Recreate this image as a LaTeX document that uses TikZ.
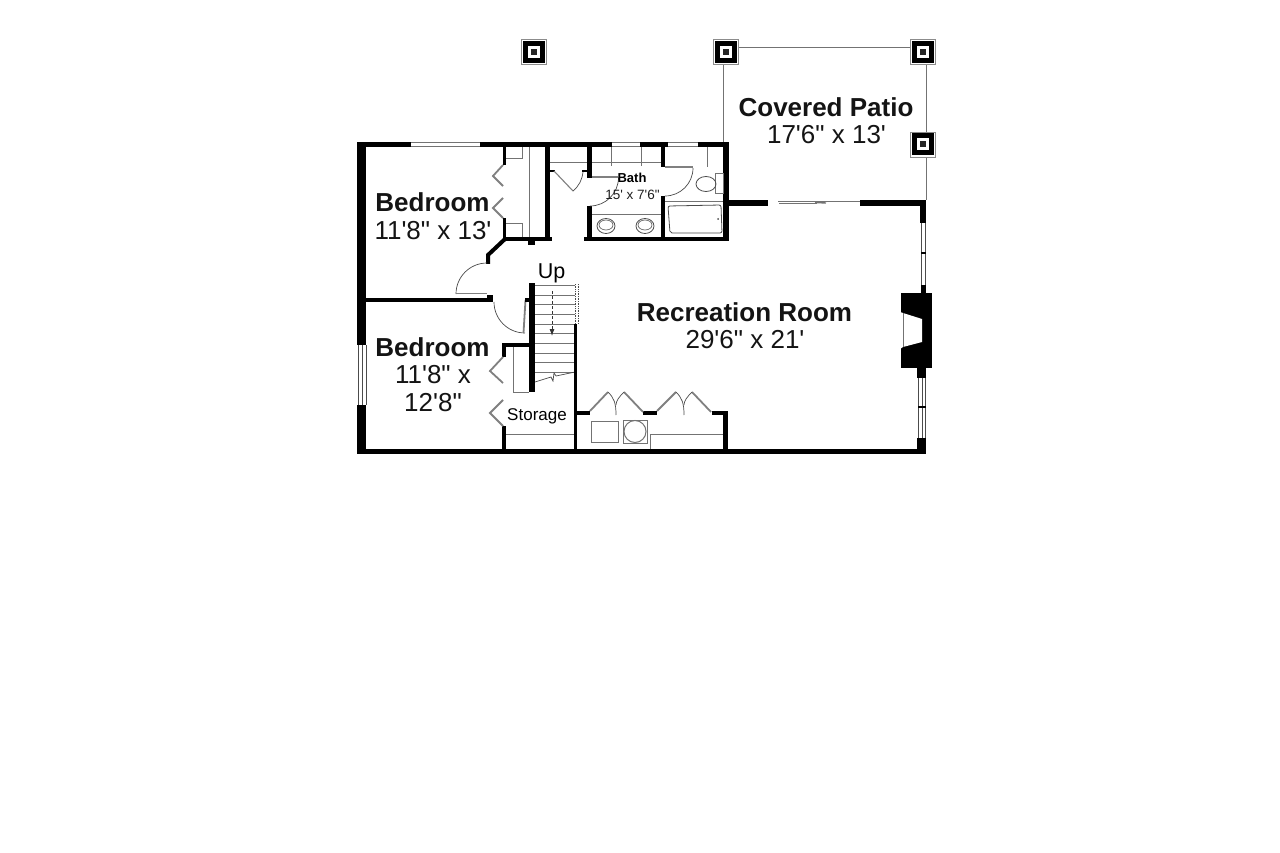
\documentclass[tikz,border=0pt]{standalone}
\usepackage{fontspec}
\usetikzlibrary{arrows.meta}
\newfontfamily\lab{Liberation Sans}
\tikzset{
  wallfill/.style={fill=black,draw=none},
  fine/.style={draw=black!55,line width=1pt},
  hair/.style={draw=black!70,line width=0.7pt},
  leaf/.style={draw=black!50,line width=1.8pt},
  room/.style={font=\lab\bfseries\fontsize{26}{26}\selectfont,inner sep=0pt,anchor=base,text=black!92},
  dims/.style={font=\lab\fontsize{26}{26}\selectfont,inner sep=0pt,anchor=base,text=black!92},
  smalldims/.style={font=\lab\fontsize{13.5}{13.5}\selectfont,inner sep=0pt,anchor=base,text=black!88},
  postouter/.style={draw=black!45,line width=0.7pt,fill=white,minimum size=25pt,inner sep=0pt},
}
\newcommand{\wl}[4]{\fill[wallfill] (#1,#2) rectangle (#3,#4);}
\newcommand{\postmark}[3]{%
  \node[postouter] (#1) at (#2,#3) {};
  \fill[black] (#2-11,#3-11) rectangle (#2+11,#3+11);
  \fill[white] (#2-6,#3-6) rectangle (#2+6,#3+6);
  \fill[black!85] (#2-3,#3-3) rectangle (#2+3,#3+3);
}
\newcommand{\bifold}[6]{\draw[leaf] (#1,#2) -- (#3,#4) -- (#5,#6);}
\begin{document}
\begin{tikzpicture}[x=1pt,y=-1pt]
\useasboundingbox (0,0) rectangle (1280,853);
\fill[white] (0,0) rectangle (1280,853);

% patio lines
\coordinate (pa) at (738,48);
\coordinate (pb) at (910,48);
\coordinate (pc) at (723,142);
\coordinate (pd) at (926,64);
\coordinate (pe) at (926,132);
\coordinate (pf) at (926,156);
\coordinate (pg) at (926,200);
\coordinate (ph) at (723,64);
\draw[fine] (pa) -- (pb);
\draw[fine] (ph) -- (pc);
\draw[fine] (pd) -- (pe);
\draw[fine] (pf) -- (pg);
\postmark{posta}{533.5}{52}
\postmark{postb}{725.5}{52}
\postmark{postc}{922.5}{52}
\postmark{postd}{922.5}{144.5}

% outer walls
\wl{357}{142}{366}{345}
\wl{357}{405}{366}{454}
\wl{357}{449}{926}{454}
\wl{357}{142}{411}{147}
\wl{480}{142}{612}{147}
\wl{640}{142}{668}{147}
\wl{698}{142}{729}{147}
\wl{723}{142}{729}{241}
\wl{729}{200}{768}{206}
\wl{860}{200}{926}{206}
\wl{920}{200}{926}{223}
\wl{921}{285}{926}{293}
\wl{917}{368}{926}{378}
\wl{917}{438}{926}{454}
% windows
\draw[fine] (411,142.5) -- (480,142.5) (411,147) -- (480,147);
\draw[fine] (612,142.5) -- (640,142.5) (612,147) -- (640,147);
\draw[fine] (668,142.5) -- (698,142.5) (668,147) -- (698,147);
\draw[hair] (358,345) -- (358,405) (362,345) -- (362,405) (366,345) -- (366,405);
\draw[hair] (921,223) -- (921,285) (925.5,223) -- (925.5,285);
\wl{921}{252}{926}{254}
\draw[hair] (918,378) -- (918,438) (922,378) -- (922,438) (925.5,378) -- (925.5,438);
\wl{918}{406}{926}{408}
% sliding door
\draw[fine] (778,201.5) -- (860,201.5);
\draw[fine,line width=1.4pt] (779,203.5) -- (817,203.5);
\draw[fine,line width=1.4pt] (815,202.5) -- (826,203);

% fireplace
\wl{901}{293}{932}{368}
\fill[white] (900,312) -- (903,313) -- (922,319) -- (922,342) -- (903,347) -- (900,349) -- cycle;
\draw[fine,line width=1pt] (903,313) -- (903,347);

% bedroom 1 closet
\wl{503}{147}{506}{165}
\wl{503}{218}{506}{240}
\bifold{503}{165}{493}{176}{503}{186}
\bifold{503}{198}{493}{208}{503}{218}
\draw[fine] (506,159) -- (522,159) -- (522,147);
\draw[fine] (506,224) -- (522,224) -- (522,237);
\draw[fine] (529,147) -- (529,237);
\wl{503}{237}{552}{241}
\wl{528}{241}{535}{245}
\wl{545}{147}{550}{241}

% diagonal wall and door
\draw[line width=4pt] (505,239) -- (488,255) -- (488,264);
\draw[hair] (487,263) arc[start angle=-90,end angle=-180,radius=31];
\draw[leaf] (456,293.5) -- (487,293.5);
\wl{366}{298}{493}{302}
\wl{487}{295}{493}{302}
\draw[hair] (494,302) arc[start angle=180,end angle=90,radius=31];
\draw[leaf] (523.5,333) -- (525.5,300);
\wl{525}{298}{529}{302}

% stairs
\wl{529}{283}{535}{392}
\foreach \yy in {285,295,304,314,324,333,343,353,362,372}{\draw[fine] (535,\yy) -- (575,\yy);}
\draw[hair,densely dotted] (575,284) -- (575,324) (578,284) -- (578,324);
\draw[hair] (535,382) -- (551,377) -- (553,381) -- (554,373) -- (556,376) -- (575,372);
\draw[black!80,line width=0.8pt,densely dashed,-{Latex[length=7pt,width=5pt]}] (552,291) -- (552,336);
\wl{574}{324}{577}{449}

% bedroom 2 closet and storage
\wl{502}{343}{529}{347}
\wl{502}{343}{506}{357}
\wl{502}{426}{506}{449}
\bifold{503}{357}{490}{371}{503}{383}
\bifold{503}{400}{490}{413}{503}{426}
\draw[fine] (513,347) -- (513,392) -- (529,392);
\draw[fine] (506,434) -- (574,434);

% laundry closet
\wl{575}{411}{590}{415}
\wl{643}{411}{657}{415}
\wl{712}{411}{728}{415}
\wl{723}{411}{728}{449}
\draw[leaf] (590,411) -- (608,392);
\draw[leaf] (624,392) -- (643,412);
\draw[leaf] (657,411) -- (676,392);
\draw[leaf] (692,392) -- (711,412);
\draw[hair] (608,392) .. controls (614,398) and (616,403) .. (616,415);
\draw[hair] (624,392) .. controls (619,397) and (616,401) .. (616,405);
\draw[hair] (676,392) .. controls (682,398) and (684,403) .. (684,415);
\draw[hair] (692,392) .. controls (687,397) and (684,401) .. (684,405);
\draw[fine] (591,421) rectangle (618,442);
\draw[fine] (623,420) rectangle (647,443);
\draw[fine] (635,431.5) circle[radius=11];
\draw[fine] (650,449) -- (650,434) -- (723,434);

% closet by bath
\draw[fine] (550,163) -- (587,163);
\wl{550}{170}{555}{172.5}
\wl{582}{170}{590}{172.5}
\draw[leaf,line width=1.1pt] (554,171) -- (573,191);
\draw[hair] (573,191) .. controls (579,186) and (582,180) .. (583,172);

% bath
\wl{587}{147}{592}{178}
\wl{587}{206}{592}{241}
\wl{584}{237}{729}{241}
\wl{661}{147}{665}{167}
\wl{661}{196}{665}{241}
\draw[leaf] (592,177) -- (618,177);
\draw[hair] (590,206) arc[start angle=90,end angle=0,radius=28.5];
\draw[leaf] (665,167) -- (693,167);
\draw[hair] (693,168) arc[start angle=0,end angle=90,radius=28];
\draw[fine] (592,163) -- (661,163);
\draw[fine] (611,147) -- (611,166.5) (641,147) -- (641,166.5);
\draw[fine] (592,215) -- (661,215);
\foreach \cx in {606,645}{
  \draw[black!70,line width=0.8pt] (\cx,226) ellipse[x radius=9,y radius=7.5];
  \draw[black!70,line width=0.6pt] (\cx,225) ellipse[x radius=7,y radius=5];
}
\draw[fine] (707,147) -- (707,167);
\draw[fine] (665,202) -- (723,202);
\draw[black!70,line width=0.8pt,rounded corners=2pt] (668,206) -- (721,205) -- (722,233) -- (670,233) -- cycle;
\fill[black!70] (718,219) circle[radius=1];
\draw[fine] (715,174) rectangle (723,194);
\draw[black!70,line width=0.8pt] (706,184) ellipse[x radius=10,y radius=7.5];

% text
\node[room] (tpatio) at (826,117) {Covered Patio};
\node[dims] (dpatio) at (826.5,144) {17'6" x 13'};
\node[room] (tbed1) at (432.5,212) {Bedroom};
\node[dims] (dbed1) at (433,239.5) {11'8" x 13'};
\node[room] (tbed2) at (432.5,356.5) {Bedroom};
\node[dims] (dbed2a) at (433,383) {11'8" x};
\node[dims] (dbed2b) at (433,411) {12'8"};
\node[room] (trec) at (744.5,321) {Recreation Room};
\node[dims] (drec) at (745,348) {29'6" x 21'};
\node[font=\lab\bfseries\fontsize{13}{13}\selectfont,inner sep=0pt,anchor=base] (tbath) at (632,182.5) {Bath};
\node[smalldims] (dbath) at (632.5,199.5) {15' x 7'6"};
\node[font=\lab\fontsize{17}{17}\selectfont,inner sep=0pt,anchor=base] (tstor) at (537,420) {Storage};
\node[font=\lab\fontsize{21.5}{21.5}\selectfont,inner sep=0pt,anchor=base] (tup) at (551.5,278.5) {Up};
\end{tikzpicture}
\end{document}
